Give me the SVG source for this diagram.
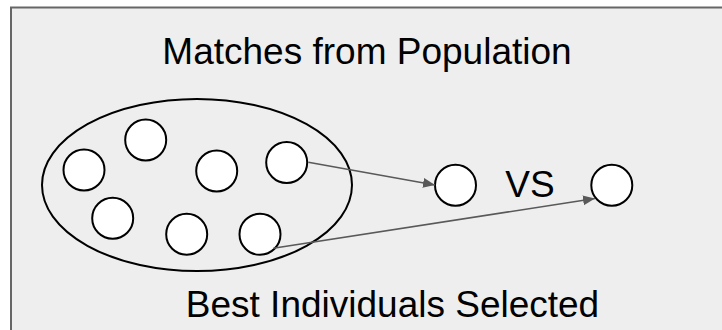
<svg xmlns="http://www.w3.org/2000/svg" width="722" height="330" viewBox="0 0 722 330">
<style>
.t{font-family:"Liberation Sans",Arial,sans-serif;font-size:37px;fill:#000;text-anchor:middle}
.n{fill:#fff;stroke:#000;stroke-width:2}
.c{stroke:#595959;stroke-width:1.6;fill:none;marker-end:url(#ah)}
</style>
<defs>
<marker id="ah" markerUnits="userSpaceOnUse" markerWidth="14" markerHeight="12" refX="12" refY="5" orient="auto">
<path d="M0,0 L12,5 L0,10 Z" fill="#595959"/>
</marker>
</defs>
<rect x="11" y="7.5" width="730" height="340" fill="#eeeeee" stroke="#666" stroke-width="2"/>
<text class="t" x="367" y="64">Matches from Population</text>
<text class="t" x="392.5" y="317">Best Individuals Selected</text>
<g id="population"><ellipse cx="197" cy="185" rx="155" ry="86" fill="none" stroke="#000" stroke-width="2"/></g>
<g id="p1"><circle class="n" cx="84" cy="170" r="20.5"/></g>
<g id="p2"><circle class="n" cx="145.7" cy="140" r="20.5"/></g>
<g id="p3"><circle class="n" cx="216.7" cy="171" r="20.5"/></g>
<g id="p4"><circle class="n" cx="286.7" cy="162.5" r="20.5"/></g>
<g id="p5"><circle class="n" cx="112.7" cy="218.3" r="20.5"/></g>
<g id="p6"><circle class="n" cx="186.7" cy="234.3" r="20.5"/></g>
<g id="p7"><circle class="n" cx="260" cy="234.3" r="20.5"/></g>
<g id="s1"><circle class="n" cx="455.5" cy="185.3" r="20.5"/></g>
<g id="s2"><circle class="n" cx="611.8" cy="185.3" r="20.5"/></g>
<g id="vs"><text class="t" x="530" y="197">VS</text></g>
<g id="connectors">
<line class="c" x1="308.3" y1="162.3" x2="435" y2="185"/>
<line class="c" x1="273.3" y1="248.3" x2="595" y2="198.5"/>
</g>
</svg>
